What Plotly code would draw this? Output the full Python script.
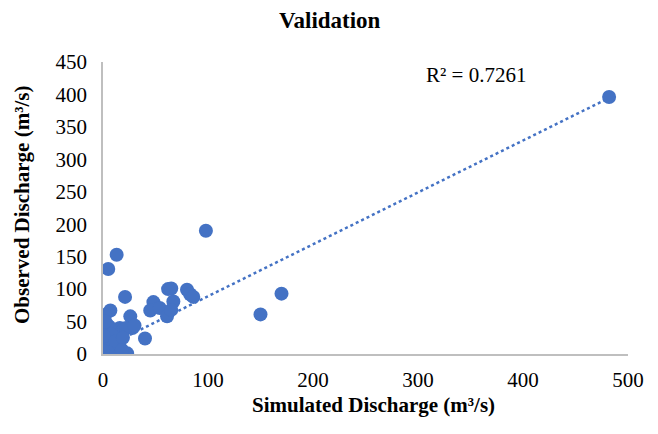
import plotly.graph_objects as go
import numpy as np

# Simulated (x) and observed (y) discharge, m3/s
sim = [482, 98, 13, 5, 21, 62, 65, 80, 83, 86, 48, 67, 45, 54, 61, 65, 170, 150, 40, 26, 28, 7, 2, 23,
       0, 1, 2, 0, 1, 3, 2, 0, 1, 4, 5, 6, 3, 5, 8, 10, 12, 9, 14, 16, 18, 11, 13, 15, 7, 20, 22, 4, 6, 8,
       10, 2, 0, 1, 0, 17, 12, 19, 18, 30]
obs = [396, 190, 153, 131, 88, 100, 101, 99, 92, 88, 80, 81, 67, 71, 58, 68, 93, 61, 24, 58, 40, 67, 60, 1,
       0, 2, 5, 10, 15, 20, 25, 30, 35, 8, 12, 3, 40, 28, 18, 22, 30, 35, 38, 40, 35, 10, 5, 2, 0, 38, 40, 45, 42, 30,
       15, 50, 18, 28, 5, 8, 20, 25, 6, 44]

# Linear trendline
trend_slope = 0.80
trend_intercept = 9.0
r2_label = "R² = 0.7261"

x_ticks = [0, 100, 200, 300, 400, 500]
y_ticks = [0, 50, 100, 150, 200, 250, 300, 350, 400, 450]

title_text = "Validation"
x_title = "Simulated Discharge (m³/s)"
y_title = "Observed Discharge (m³/s)"

blue = "#4472C4"
font_family = "Liberation Serif, Times New Roman, serif"

tx = np.array([min(sim), max(sim)])
ty = trend_slope * tx + trend_intercept

fig = go.Figure()
fig.add_trace(go.Scatter(x=tx, y=ty, mode="lines",
                         line=dict(color=blue, width=2.5, dash="dot"),
                         hoverinfo="skip", showlegend=False))
fig.add_trace(go.Scatter(x=sim, y=obs, mode="markers",
                         marker=dict(color=blue, size=14, line=dict(width=0)),
                         showlegend=False))

W, H = 658, 434
OFF = 8  # page body margin
L, R, T, B = 103 - OFF, 38, 62 - OFF, 88
PW, PH = W - L - R, H - T - B

def px_x(p):
    return (p - OFF - L) / PW

def px_y(p):
    return (H - B - (p - OFF)) / PH

fig.update_layout(
    width=W, height=H,
    margin=dict(l=L, r=R, t=T, b=B, autoexpand=False),
    paper_bgcolor="white", plot_bgcolor="white",
    font=dict(family=font_family, color="#000000"),
    xaxis=dict(range=[0, 500], tickvals=x_ticks, showgrid=False, zeroline=False,
               showline=True, linecolor="#BFBFBF", linewidth=1.5, ticks="", automargin=False,
               ticklabelstandoff=6,
               tickfont=dict(size=21, family=font_family, color="#000000")),
    yaxis=dict(range=[0, 450], tickvals=y_ticks, showgrid=False, zeroline=False,
               showline=True, linecolor="#BFBFBF", linewidth=1.5, ticks="", automargin=False,
               ticklabelstandoff=10,
               tickfont=dict(size=21, family=font_family, color="#000000")),
    annotations=[
        dict(x=476, y=75, text=r2_label, showarrow=False,
             xanchor="center", yanchor="middle",
             font=dict(size=21, family=font_family, color="#000000")),
        dict(x=330, y=20, text="<b>" + title_text + "</b>", showarrow=False,
             xanchor="center", yanchor="middle",
             font=dict(size=23, family=font_family, color="#000000")),
        dict(x=373, y=405, text="<b>" + x_title + "</b>", showarrow=False,
             xanchor="center", yanchor="middle",
             font=dict(size=21, family=font_family, color="#000000")),
        dict(x=22, y=205, text="<b>" + y_title + "</b>", showarrow=False, textangle=-90,
             xanchor="center", yanchor="middle",
             font=dict(size=21, family=font_family, color="#000000")),
    ],
)

# convert screenshot pixel positions of annotations to paper coordinates
for a in fig.layout.annotations:
    a.update(x=px_x(a.x), y=px_y(a.y), xref="paper", yref="paper")

fig.write_html("out.html")
